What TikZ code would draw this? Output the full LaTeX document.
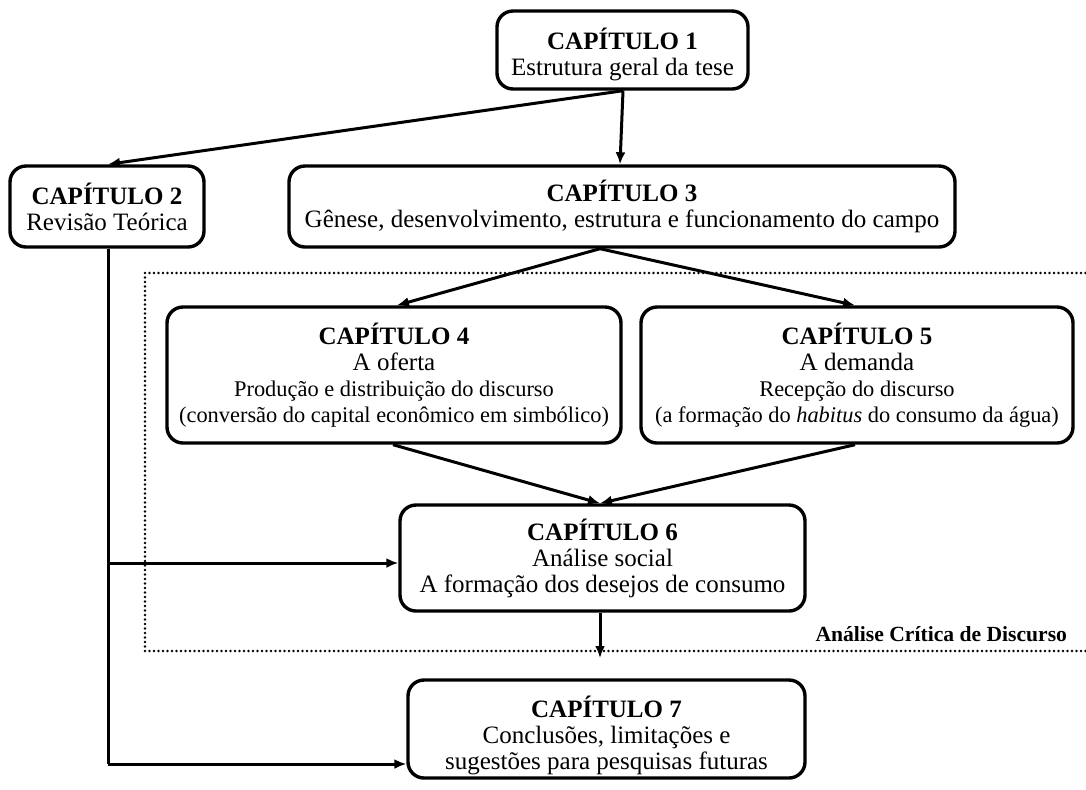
\documentclass[tikz,border=0pt]{standalone}
\usepackage{fontspec}
\setmainfont{Liberation Serif}
\usetikzlibrary{arrows.meta}
\tikzset{
  chbox/.style={draw, line width=1.7pt, rounded corners=8pt, align=center, inner sep=0pt,
    font=\fontsize{12.5}{13}\selectfont},
  chtext/.style={align=center, inner sep=0pt, font=\fontsize{12.5}{13}\selectfont},
  arr/.style={line width=1.5pt, -{Latex[length=6pt,width=5pt]}},
  conn/.style={line width=1.5pt},
  dotbox/.style={line width=1.4pt, dash pattern=on 0pt off 2.25pt, line cap=round}
}
\newcommand{\smtxt}[1]{{\fontsize{11.2}{13}\selectfont #1}}
\begin{document}
\begin{tikzpicture}[x=0.5pt,y=-0.5pt]
\useasboundingbox (0,0) rectangle (1086,789);
% dotted region
\draw[dotbox] (1090,273) -- (145,273) -- (145,651) -- (1090,651);
\node[anchor=east, font=\fontsize{10.8}{12}\selectfont\bfseries] (acd) at (1074,634) {Análise Crítica de Discurso};
% boxes
\node[chbox, minimum width=125.5pt, minimum height=39pt] (ch1) at (622.5,50) {};
\node[chtext] (t1) at (622.5,54)
  {\textbf{CAPÍTULO 1}\\Estrutura geral da tese};
\node[chbox, minimum width=97pt, minimum height=40.5pt] (ch2) at (107,206.5)
  {\textbf{CAPÍTULO 2}\\Revisão Teórica};
\node[chbox, minimum width=333pt, minimum height=40.5pt] (ch3) at (622,206.5)
  {\textbf{CAPÍTULO 3}\\Gênese, desenvolvimento, estrutura e funcionamento do campo};
\node[chbox, minimum width=227pt, minimum height=68pt] (ch4) at (394,375)
  {\textbf{CAPÍTULO 4}\\A oferta\\\smtxt{Produção e distribuição do discurso}\\\smtxt{(conversão do capital econômico em simbólico)}};
\node[chbox, minimum width=216pt, minimum height=68pt] (ch5) at (857,375)
  {\textbf{CAPÍTULO 5}\\A demanda\\\smtxt{Recepção do discurso}\\\smtxt{(a formação do \textit{habitus} do consumo da água)}};
\node[chbox, minimum width=202.5pt, minimum height=53pt] (ch6) at (602.5,558)
  {\textbf{CAPÍTULO 6}\\Análise social\\A formação dos desejos de consumo};
\node[chbox, minimum width=198.5pt, minimum height=49pt] (ch7) at (606.5,729) {};
\node[chtext] (t7) at (606.5,735)
  {\textbf{CAPÍTULO 7}\\Conclusões, limitações e\\sugestões para pesquisas futuras};
% connectors
\draw[arr] (ch1.south -| 623,0) -- (ch2.north -| 108,0);
\draw[arr] (ch1.south -| 623,0) -- (ch3.north -| 620,0);
\draw[arr] (ch3.south -| 600,0) -- (ch4.north -| 397,0);
\draw[arr] (ch3.south -| 600,0) -- (ch5.north -| 855,0);
\draw[arr] (ch4.south -| 393,0) -- (ch6.north -| 600,0);
\draw[arr] (ch5.south -| 855,0) -- (ch6.north -| 600,0);
\coordinate (down) at (600,658);
\draw[arr] (ch6.south -| down) -- (down);
\coordinate (b6) at (108,563);
\coordinate (b7) at (108,764);
\draw[conn] (ch2.south -| b7) -- (b7);
\draw[arr] (b6) -- (b6 -| ch6.west);
\draw[arr] (b7) -- (b7 -| ch7.west);
\end{tikzpicture}
\end{document}
